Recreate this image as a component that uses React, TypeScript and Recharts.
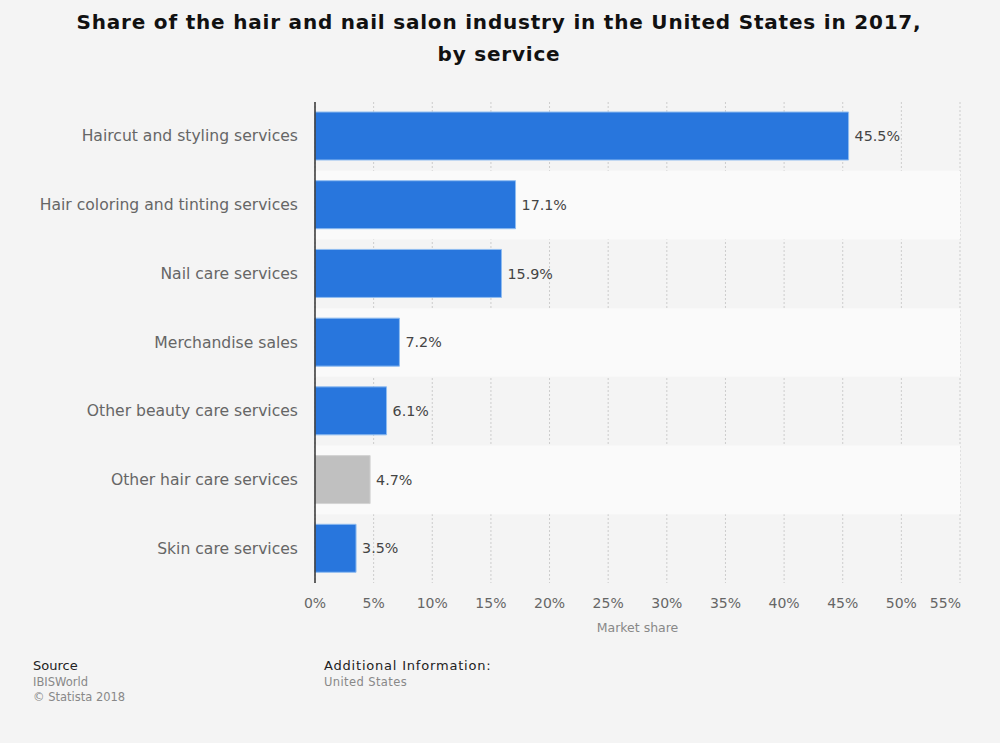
import React from "react";
import {
  BarChart,
  Bar,
  XAxis,
  YAxis,
  CartesianGrid,
  ReferenceArea,
  LabelList,
  Cell,
} from "recharts";

const categories = [
  "Haircut and styling services",
  "Hair coloring and tinting services",
  "Nail care services",
  "Merchandise sales",
  "Other beauty care services",
  "Other hair care services",
  "Skin care services",
];
const shares = [45.5, 17.1, 15.9, 7.2, 6.1, 4.7, 3.5];
const barColors = ["#2876dd", "#2876dd", "#2876dd", "#2876dd", "#2876dd", "#c0c0c0", "#2876dd"];
const xTicks = [0, 5, 10, 15, 20, 25, 30, 35, 40, 45, 50, 55];

const data = categories.map((name, i) => ({ name, value: shares[i] }));

const FONT = "'DejaVu Sans', sans-serif";

const XTick = (props: any) => {
  const { x, y, payload } = props;
  const last = payload.value === 55;
  return (
    <text
      x={last ? x + 1 : x}
      y={y + 17}
      textAnchor={last ? "end" : "middle"}
      fill="#666"
      fontSize={14}
      fontFamily={FONT}
    >
      {payload.value}%
    </text>
  );
};

const YTick = (props: any) => {
  const { y, payload } = props;
  return (
    <text x={298} y={y + 5} textAnchor="end" fill="#666" fontSize={15.6} fontFamily={FONT}>
      {payload.value}
    </text>
  );
};

export default function App() {
  return (
    <div
      style={{
        position: "absolute",
        left: 0,
        top: 0,
        width: 1000,
        height: 743,
        background: "#f4f4f4",
        fontFamily: FONT,
      }}
    >
      <BarChart
        width={1000}
        height={743}
        data={data}
        layout="vertical"
        margin={{ top: 102, right: 40, bottom: 110, left: 0 }}
        barSize={48}
      >
        {categories.map((c, i) =>
          i % 2 === 1 ? (
            <ReferenceArea
              key={c}
              y1={c}
              y2={c}
              x1={0}
              x2={55}
              fill="#fafafa"
              fillOpacity={1}
              stroke="none"
              ifOverflow="extendDomain"
            />
          ) : null
        )}
        <CartesianGrid horizontal={false} strokeDasharray="2 2" stroke="#cccccc" />
        <XAxis
          type="number"
          domain={[0, 55]}
          ticks={xTicks}
          axisLine={false}
          tickLine={false}
          tick={<XTick />}
          height={50}
          interval={0}
          label={{
            value: "Market share",
            position: "insideBottom",
            offset: 1,
            fill: "#888",
            fontSize: 12.5,
            fontFamily: FONT,
          }}
        />
        <YAxis
          type="category"
          dataKey="name"
          width={315}
          axisLine={{ stroke: "#333", strokeWidth: 1.5 }}
          tickLine={false}
          tick={<YTick />}
          interval={0}
        />
        <Bar dataKey="value" isAnimationActive={false} strokeWidth={1}>
          {data.map((d, i) => (
            <Cell key={d.name} fill={barColors[i]} stroke={i === 5 ? "#d4d4d4" : "#8fbcf0"} />
          ))}
          <LabelList
            dataKey="value"
            position="right"
            offset={6}
            fill="#444"
            fontSize={14.3}
            fontFamily={FONT}
            formatter={(v: any) => `${v}%`}
          />
        </Bar>
      </BarChart>
      <svg
        width={1000}
        height={743}
        style={{ position: "absolute", left: 0, top: 0, pointerEvents: "none" }}
      >
        <text x={499} y={29} textAnchor="middle" fontSize={20} fontWeight="bold" fill="#111" fontFamily={FONT} letterSpacing={0.8}>
          Share of the hair and nail salon industry in the United States in 2017,
        </text>
        <text x={499} y={61} textAnchor="middle" fontSize={20} fontWeight="bold" fill="#111" fontFamily={FONT} letterSpacing={0.8}>
          by service
        </text>
        <text x={33} y={670} fontSize={13} fill="#222" fontFamily={FONT}>Source</text>
        <text x={33} y={686} fontSize={11.5} fill="#888" fontFamily={FONT}>IBISWorld</text>
        <text x={33} y={701} fontSize={11.5} fill="#888" fontFamily={FONT}>© Statista 2018</text>
        <text x={324} y={670} fontSize={13} fill="#222" fontFamily={FONT} letterSpacing={0.8}>Additional Information:</text>
        <text x={324} y={686} fontSize={11.5} fill="#888" fontFamily={FONT} letterSpacing={0.4}>United States</text>
      </svg>
    </div>
  );
}
